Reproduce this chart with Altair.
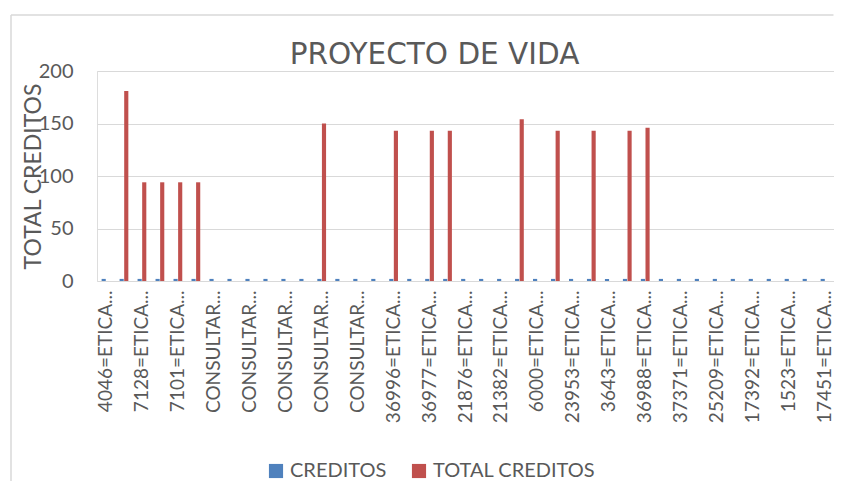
import json
import altair as alt
import pandas as pd

series = ["CREDITOS", "TOTAL CREDITOS"]
colors = ["#4F81BD", "#C0504D"]
chart_title = "PROYECTO DE VIDA"

# 41 categories; Excel shows a label on every other one
positions = list(range(1, 42))
tick_labels = [
    "4046=ETICA...", "7128=ETICA...", "7101=ETICA...", "CONSULTAR...",
    "CONSULTAR...", "CONSULTAR...", "CONSULTAR...", "CONSULTAR...",
    "36996=ETICA...", "36977=ETICA...", "21876=ETICA...", "21382=ETICA...",
    "6000=ETICA...", "23953=ETICA...", "3643=ETICA...", "36988=ETICA...",
    "37371=ETICA...", "25209=ETICA...", "17392=ETICA...", "1523=ETICA...",
    "17451=ETICA...",
]
creditos = [2, 2, 2, 2, 2, 2, 2, 2, 2, 2, 2, 2, 2, 2, 2, 2, 2, 2, 2, 2, 2,
            2, 2, 2, 2, 2, 2, 2, 2, 2, 2, 2, 2, 2, 2, 2, 2, 2, 2, 2, 2]
total_creditos = [0, 181, 94, 94, 94, 94, 0, 0, 0, 0, 0, 0, 150, 0, 0, 0,
                  143, 0, 143, 143, 0, 0, 0, 154, 0, 143, 0, 143, 0, 143,
                  146, 0, 0, 0, 0, 0, 0, 0, 0, 0, 0]
y_ticks = [0, 50, 100, 150, 200]

rows = []
for p, c, t in zip(positions, creditos, total_creditos):
    rows.append({"pos": p, "series": series[0], "value": c})
    rows.append({"pos": p, "series": series[1], "value": t})
df = pd.DataFrame(rows)

FONT = "Lato"
TXT = "#595959"
GRID = "#d9d9d9"

label_expr = (
    "datum.value % 2 == 1 ? " + json.dumps(tick_labels, ensure_ascii=False)
    + "[(datum.value - 1) / 2] : ''"
)

bars = alt.Chart(df).mark_bar().encode(
    x=alt.X(
        "pos:O",
        sort=positions,
        scale=alt.Scale(paddingInner=0, paddingOuter=0),
        axis=alt.Axis(
            title=None, labelAngle=270, labelExpr=label_expr, ticks=False,
            domain=False, labelPadding=9, labelFontSize=19, labelColor=TXT,
            labelFont=FONT, labelLimit=0,
        ),
    ),
    xOffset=alt.XOffset(
        "series:N",
        scale=alt.Scale(domain=series, paddingInner=0.1, paddingOuter=1),
    ),
    y=alt.Y(
        "value:Q",
        scale=alt.Scale(domain=[0, 200], nice=False),
        axis=alt.Axis(
            values=y_ticks, grid=True, gridColor=GRID, gridWidth=1,
            domain=False, ticks=False, labelFontSize=20, labelColor=TXT,
            labelFont=FONT, labelPadding=24, title="TOTAL CREDITOS",
            titleFontSize=23, titleFont=FONT, titleFontWeight="normal",
            titleColor=TXT, titleX=-64, titleY=105, titleAngle=270,
            titleAlign="center", titleBaseline="middle",
        ),
    ),
    color=alt.Color(
        "series:N",
        scale=alt.Scale(domain=series, range=colors),
        legend=alt.Legend(
            title=None, orient="none", legendX=169, legendY=390,
            direction="horizontal", symbolType="square", symbolSize=200,
            symbolStrokeWidth=0, labelFontSize=20, labelFont=FONT,
            labelColor=TXT, columnPadding=22, labelOffset=4, padding=0,
            labelLimit=0,
        ),
    ),
)

one = pd.DataFrame({"b": [0]})
border_left = alt.Chart(one).mark_rule(color=GRID, strokeWidth=1.5).encode(
    x=alt.value(-86), y=alt.value(-56), y2=alt.value(410)
)
border_top = alt.Chart(one).mark_rule(color=GRID, strokeWidth=1.5).encode(
    x=alt.value(-86), x2=alt.value(736.5), y=alt.value(-56)
)
title = alt.Chart(one).mark_text(
    font="DejaVu Sans", fontSize=29.5, color=TXT, align="center",
    baseline="alphabetic",
).encode(
    text=alt.value(chart_title), x=alt.value(337.5), y=alt.value(-7.5)
)

chart = alt.layer(border_left, border_top, bars, title).properties(
    width=737,
    height=210,
    autosize=alt.AutoSizeParams(type="none"),
    padding={"left": 89, "top": 63, "right": 0, "bottom": 209},
).configure_view(strokeWidth=0).configure(background="white")

chart.save("out.html", embed_options={"renderer": "svg", "actions": False})
